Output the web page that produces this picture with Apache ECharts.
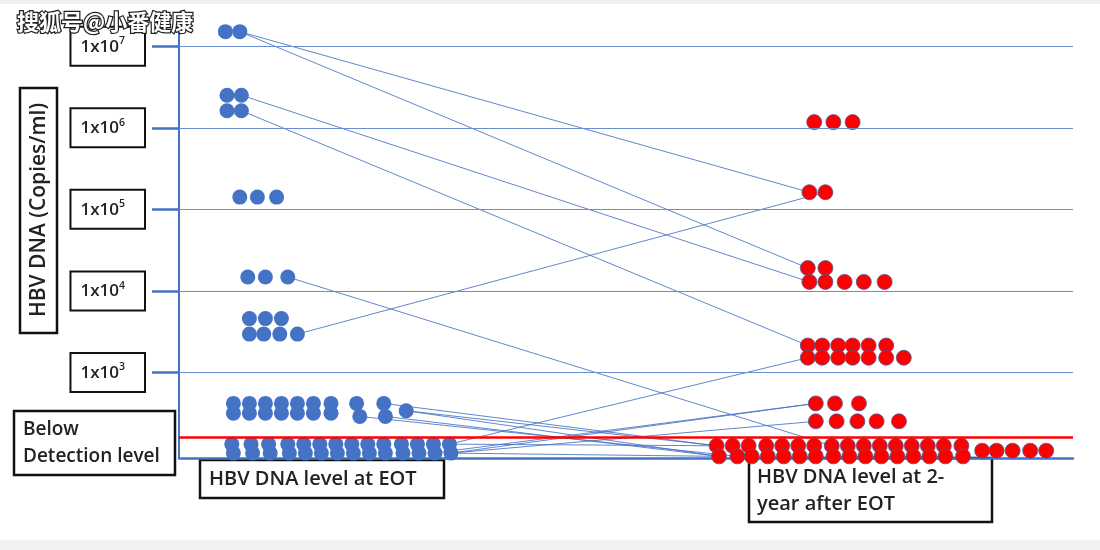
<!DOCTYPE html>
<html>
<head>
<meta charset="utf-8">
<script src="https://cdn.jsdelivr.net/npm/echarts/dist/echarts.min.js"></script>
<style>html,body{margin:0;padding:0;background:#fff}#c{width:1100px;height:550px}</style>
</head>
<body>
<div id="c"></div>
<script>
// x: horizontal slot position (column units), y: log10(HBV DNA copies/ml)
const eotDots = [
  [2.9,7.18],[3.8,7.18],
  [3.0,6.40],[3.9,6.40],[3.0,6.21],[3.9,6.21],
  [3.8,5.15],[4.9,5.15],[6.1,5.15],
  [4.3,4.17],[5.4,4.17],[6.8,4.17],
  [4.4,3.66],[5.4,3.66],[6.4,3.66],[4.4,3.47],[5.3,3.47],[6.3,3.47],[7.4,3.47],
  [3.4,2.62],[4.4,2.62],[5.4,2.62],[6.4,2.62],[7.4,2.62],[8.4,2.62],[9.5,2.62],[11.1,2.62],[12.8,2.62],
  [3.4,2.50],[4.4,2.50],[5.4,2.50],[6.4,2.50],[7.4,2.50],[8.4,2.50],[9.5,2.50],
  [11.3,2.46],[12.9,2.46],[14.2,2.53],
  [3.3,2.12],[4.5,2.12],[5.6,2.12],[6.8,2.12],[7.8,2.12],[8.8,2.12],[9.8,2.12],[10.8,2.12],[11.8,2.12],[12.8,2.12],[13.9,2.12],[14.9,2.12],[15.9,2.12],[16.9,2.12],
  [3.4,2.01],[4.6,2.01],[5.7,2.01],[6.9,2.01],[7.9,2.01],[8.9,2.01],[9.9,2.01],[10.9,2.01],[11.9,2.01],[12.9,2.01],[14.0,2.01],[15.0,2.01],[16.0,2.01],[17.0,2.01]
];
const twoYearDots = [
  [39.7,6.07],[40.9,6.07],[42.1,6.07],
  [39.4,5.21],[40.4,5.21],
  [39.3,4.28],[40.4,4.28],[39.4,4.11],[40.4,4.11],[41.6,4.11],[42.8,4.11],[44.1,4.11],
  [39.3,3.33],[40.2,3.33],[41.2,3.33],[42.1,3.33],[43.1,3.33],[44.2,3.33],
  [39.3,3.18],[40.2,3.18],[41.2,3.18],[42.1,3.18],[43.1,3.18],[44.2,3.18],[45.3,3.18],
  [39.8,2.62],[41.0,2.62],[42.5,2.62],
  [39.8,2.40],[41.1,2.40],[42.4,2.40],[43.6,2.40],[45.0,2.40],
  [33.6,2.10],[34.6,2.10],[35.6,2.10],[36.7,2.10],[37.7,2.10],[38.7,2.10],[39.7,2.10],[40.8,2.10],[41.8,2.10],[42.8,2.10],[43.8,2.10],[44.8,2.10],[45.8,2.10],[46.8,2.10],[47.8,2.10],[48.9,2.10],
  [33.75,1.97],[34.9,1.97],[35.8,1.97],[36.8,1.97],[37.8,1.97],[38.8,1.97],[39.8,1.97],[40.9,1.97],[41.9,1.97],[42.9,1.97],[43.9,1.97],[44.9,1.97],[45.9,1.97],[46.9,1.97],[47.9,1.97],[49.0,1.97],
  [50.2,2.04],[51.1,2.04],[52.1,2.04],[53.2,2.04],[54.2,2.04]
];
// patient links: [eotX, eotLog, twoYearX, twoYearLog]
const links = [
  [3.8,7.18,39.4,5.21],
  [3.8,7.18,39.3,4.28],
  [3.9,6.40,39.4,4.11],
  [3.9,6.21,39.3,3.33],
  [7.4,3.47,40.4,5.21],
  [6.8,4.17,40.8,2.10],
  [16.9,2.12,39.3,3.18],
  [17.0,2.01,39.8,2.62],
  [15.9,2.01,39.8,2.62],
  [17.0,2.01,39.8,2.40],
  [14.2,2.53,33.6,2.10],
  [14.2,2.53,33.75,1.97],
  [12.9,2.46,33.75,1.97],
  [12.8,2.62,33.6,2.10],
  [11.3,2.46,34.9,1.97],
  [17.0,2.01,33.75,1.97],
  [16.9,2.12,33.6,2.10]
];
const tickValues = [3,4,5,6,7];
const tickExponents = {3:'3',4:'4',5:'5',6:'6',7:'7'};
const detectionLimit = 2.215;
const yMin = 1.95, yMax = 7.2, xMin = 0, xMax = 55.875;

const BLUE = '#4472C4';
const FONT = 'Open Sans';
const chart = echarts.init(document.getElementById('c'), null, {renderer:'canvas'});

const option = {
  backgroundColor: '#ffffff',
  animation: false,
  grid: {left: 179, right: 27, top: 30, bottom: 92, containLabel: false},
  xAxis: {
    type: 'value', min: xMin, max: xMax,
    axisLine: {show: true, onZero: false, lineStyle: {color: BLUE, width: 2.5}},
    axisTick: {show: false}, axisLabel: {show: false}, splitLine: {show: false}
  },
  yAxis: [
    {
      type: 'value', min: yMin, max: yMax,
      axisLine: {show: true, onZero: false, lineStyle: {color: BLUE, width: 2}},
      axisTick: {show: false}, axisLabel: {show: false}, splitLine: {show: false}
    },
    {
      type: 'value', min: yMin, max: yMax, position: 'left', offset: 12,
      axisLine: {show: false},
      axisTick: {show: true, customValues: tickValues, length: 27, lineStyle: {color: BLUE, width: 2.5}},
      splitLine: {show: false},
      axisLabel: {
        show: true, customValues: tickValues, margin: 23,
        formatter: v => '{b|1x10}{s|' + tickExponents[v] + '}',
        borderColor: '#111', borderWidth: 2, padding: [8, 19, 7, 9],
        backgroundColor: '#fff',
        rich: {
          b: {fontSize: 17, fontFamily: FONT, fontWeight: 600, color: '#222', lineHeight: 22},
          s: {fontSize: 10.5, fontFamily: FONT, fontWeight: 600, color: '#222', lineHeight: 12, verticalAlign: 'top'}
        }
      }
    }
  ],
  series: [
    {
      type: 'scatter', data: [], z: 0, silent: true,
      markLine: {
        silent: true, symbol: ['none','none'], label: {show: false},
        lineStyle: {color: '#6a8fd0', width: 1.2, type: 'solid'},
        data: tickValues.map(v => ({yAxis: v})).concat([
          {yAxis: detectionLimit, lineStyle: {color: '#ff0000', width: 2.6}}
        ])
      }
    },
    {
      type: 'lines', coordinateSystem: 'cartesian2d', z: 1, silent: true,
      lineStyle: {color: BLUE, width: 1, opacity: 0.85},
      data: links.map(l => ({coords: [[l[0], l[1]], [l[2], l[3]]]}))
    },
    {
      type: 'scatter', name: 'EOT', z: 3, symbolSize: 15, clip: false,
      itemStyle: {color: BLUE, opacity: 1},
      data: eotDots
    },
    {
      type: 'scatter', name: '2-year', z: 3, symbolSize: 15, clip: false,
      itemStyle: {color: '#ff0000', borderColor: '#4b5a94', borderWidth: 0.8, opacity: 1},
      data: twoYearDots
    }
  ],
  graphic: [
    {type: 'rect', shape: {x: 0, y: 0, width: 1100, height: 4}, style: {fill: '#efefef'}, silent: true},
    {type: 'rect', shape: {x: 0, y: 540, width: 1100, height: 10}, style: {fill: '#f2f2f2'}, silent: true},
    {type: 'text', x: 17, y: 22, silent: true, z: 10,
      style: {text: '搜狐号@小番健康', font: '600 22px "Noto Sans CJK SC"', fill: '#ffffff',
        stroke: '#222', lineWidth: 2.5, verticalAlign: 'middle', align: 'left'}},
    {type: 'rect', shape: {x: 20, y: 88, width: 37, height: 245}, style: {fill: '#fff', stroke: '#111', lineWidth: 2.5}, silent: true},
    {type: 'text', x: 39, y: 210, rotation: Math.PI / 2, silent: true,
      style: {text: 'HBV DNA (Copies/ml)', font: '600 21px "' + FONT + '"', fill: '#222', align: 'center', verticalAlign: 'middle'}},
    {type: 'rect', shape: {x: 14, y: 411, width: 161, height: 64}, style: {fill: '#fff', stroke: '#111', lineWidth: 2.5}, silent: true},
    {type: 'text', x: 23, y: 443, silent: true,
      style: {text: 'Below\nDetection level', font: '600 19px "' + FONT + '"', lineHeight: 27, fill: '#222', align: 'left', verticalAlign: 'middle'}},
    {type: 'rect', shape: {x: 200, y: 460, width: 244, height: 38}, style: {fill: '#fff', stroke: '#111', lineWidth: 2.5}, silent: true},
    {type: 'text', x: 209, y: 479, silent: true,
      style: {text: 'HBV DNA level at EOT', font: '600 20px "' + FONT + '"', fill: '#222', align: 'left', verticalAlign: 'middle'}},
    {type: 'rect', shape: {x: 749, y: 458, width: 243, height: 64}, style: {fill: '#fff', stroke: '#111', lineWidth: 2.5}, silent: true},
    {type: 'text', x: 757, y: 491, silent: true,
      style: {text: 'HBV DNA level at 2-\nyear after EOT', font: '600 20px "' + FONT + '"', lineHeight: 27, fill: '#222', align: 'left', verticalAlign: 'middle'}}
  ]
};
chart.setOption(option);
</script>
</body>
</html>
